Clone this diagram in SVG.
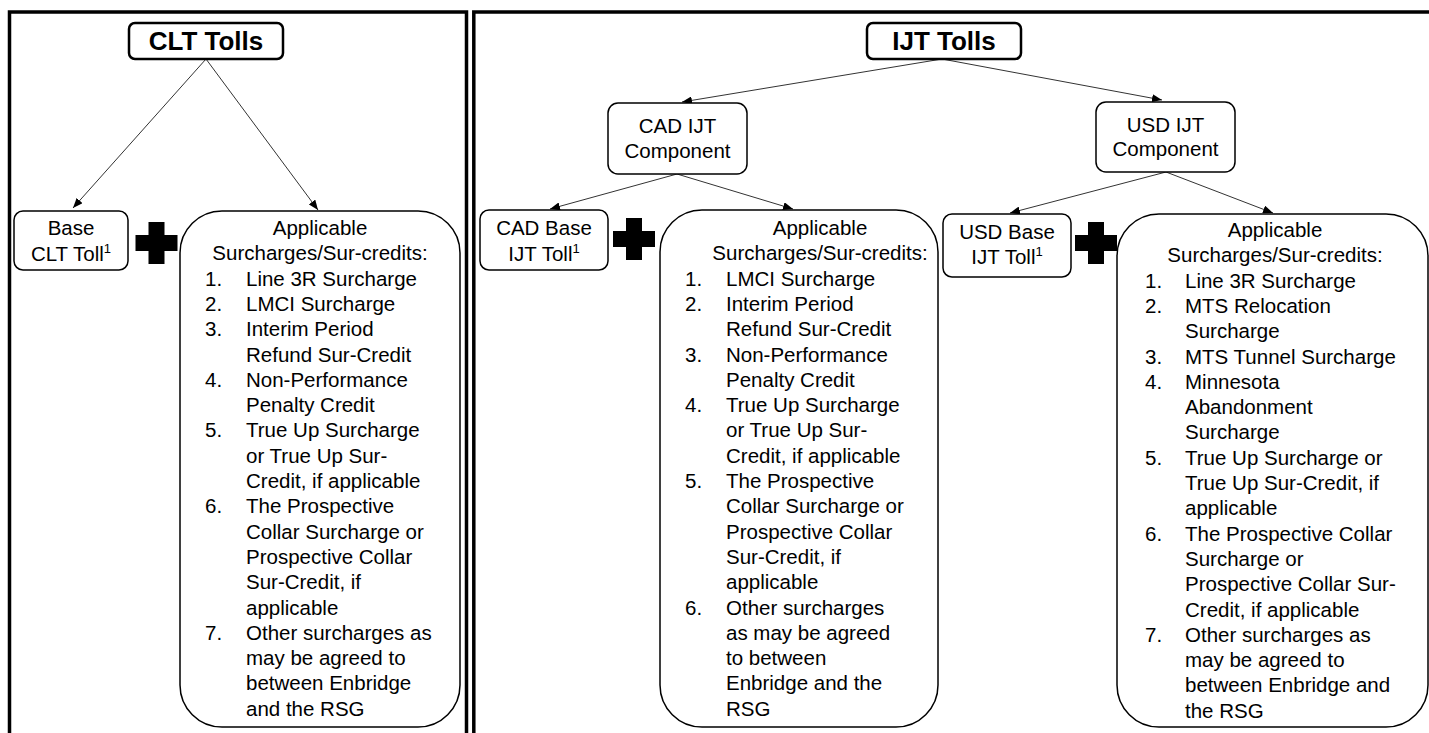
<svg xmlns="http://www.w3.org/2000/svg" width="1429" height="733" viewBox="0 0 1429 733">
<style>
text{font-family:"Liberation Sans",Arial,sans-serif;fill:#000}
.t{font-size:20.5px}
.c{text-anchor:middle}
.h{font-size:26px;font-weight:bold;text-anchor:middle}
.sup{font-size:13px}
.box{fill:#fff;stroke:#000;stroke-width:1.5}
.hbox{fill:#fff;stroke:#000;stroke-width:2.5}
.frame{fill:none;stroke:#000;stroke-width:3.5}
.edge{fill:none;stroke:#333;stroke-width:1}
</style>
<defs>
<marker id="ah" viewBox="0 0 10 8" refX="10" refY="4" markerWidth="10" markerHeight="8" markerUnits="userSpaceOnUse" orient="auto">
<path d="M0,0 L10,4 L0,8 Z" fill="#000"/>
</marker>
<path id="plus" d="M-8,-21 H8 V-8 H21 V8 H8 V21 H-8 V8 H-21 V-8 H-8 Z" fill="#000"/>
</defs>
<rect width="1429" height="733" fill="#fff"/>
<g id="frames">
<path class="frame" d="M9.5,733 V12 H466.5 V733"/>
<path class="frame" d="M473.8,733 V12 H1429"/>
</g>
<g id="connectors">
<path class="edge" d="M206,59 L73,208" marker-end="url(#ah)"/>
<path class="edge" d="M206,59 L318,210" marker-end="url(#ah)"/>
<path class="edge" d="M942,59 L682,102" marker-end="url(#ah)"/>
<path class="edge" d="M942,59 L1162,100" marker-end="url(#ah)"/>
<path class="edge" d="M677,174 L550,209" marker-end="url(#ah)"/>
<path class="edge" d="M677,174 L793,209" marker-end="url(#ah)"/>
<path class="edge" d="M1166,172 L1010,213" marker-end="url(#ah)"/>
<path class="edge" d="M1166,172 L1273,213" marker-end="url(#ah)"/>
</g>
<g id="clt-tolls">
<rect class="hbox" x="129" y="23" width="154" height="36" rx="6"/>
<text class="h" x="206" y="50">CLT Tolls</text>
</g>
<g id="clt-base">
<rect class="box" x="14" y="211" width="114" height="59" rx="9"/>
<text class="t c" x="71" y="235">Base</text>
<text class="t c" x="71" y="261">CLT Toll<tspan class="sup" dy="-8">1</tspan></text>
</g>
<g id="clt-plus"><use href="#plus" x="156.5" y="243"/></g>
<g id="clt-surcharges">
<rect class="box" x="180" y="211" width="280" height="516" rx="42"/>
<text class="t c" x="320" y="235">Applicable</text>
<text class="t c" x="320" y="260.3">Surcharges/Sur-credits:</text>
<text class="t" x="205" y="285.6">1.</text><text class="t" x="246" y="285.6">Line 3R Surcharge</text>
<text class="t" x="205" y="311">2.</text><text class="t" x="246" y="311">LMCI Surcharge</text>
<text class="t" x="205" y="336.2">3.</text><text class="t" x="246" y="336.2">Interim Period</text>
<text class="t" x="246" y="361.5">Refund Sur-Credit</text>
<text class="t" x="205" y="386.8">4.</text><text class="t" x="246" y="386.8">Non-Performance</text>
<text class="t" x="246" y="412.1">Penalty Credit</text>
<text class="t" x="205" y="437.4">5.</text><text class="t" x="246" y="437.4">True Up Surcharge</text>
<text class="t" x="246" y="462.7">or True Up Sur-</text>
<text class="t" x="246" y="488">Credit, if applicable</text>
<text class="t" x="205" y="513.3">6.</text><text class="t" x="246" y="513.3">The Prospective</text>
<text class="t" x="246" y="538.6">Collar Surcharge or</text>
<text class="t" x="246" y="563.9">Prospective Collar</text>
<text class="t" x="246" y="589.2">Sur-Credit, if</text>
<text class="t" x="246" y="614.5">applicable</text>
<text class="t" x="205" y="639.8">7.</text><text class="t" x="246" y="639.8">Other surcharges as</text>
<text class="t" x="246" y="665.1">may be agreed to</text>
<text class="t" x="246" y="690.4">between Enbridge</text>
<text class="t" x="246" y="715.7">and the RSG</text>
</g>
<g id="ijt-tolls">
<rect class="hbox" x="867" y="23" width="154" height="36" rx="6"/>
<text class="h" x="944" y="50">IJT Tolls</text>
</g>
<g id="cad-component">
<rect class="box" x="608" y="103" width="139" height="71" rx="10"/>
<text class="t c" x="677.5" y="133">CAD IJT</text>
<text class="t c" x="677.5" y="158">Component</text>
</g>
<g id="usd-component">
<rect class="box" x="1096" y="102" width="139" height="70" rx="10"/>
<text class="t c" x="1165.5" y="132">USD IJT</text>
<text class="t c" x="1165.5" y="156">Component</text>
</g>
<g id="cad-base">
<rect class="box" x="480" y="210" width="128" height="60" rx="9"/>
<text class="t c" x="544" y="235">CAD Base</text>
<text class="t c" x="544" y="261">IJT Toll<tspan class="sup" dy="-8">1</tspan></text>
</g>
<g id="cad-plus"><use href="#plus" x="634" y="239"/></g>
<g id="cad-surcharges">
<rect class="box" x="660" y="210" width="278" height="517" rx="42"/>
<text class="t c" x="820" y="235">Applicable</text>
<text class="t c" x="820" y="260.3">Surcharges/Sur-credits:</text>
<text class="t" x="685" y="285.6">1.</text><text class="t" x="726" y="285.6">LMCI Surcharge</text>
<text class="t" x="685" y="310.9">2.</text><text class="t" x="726" y="310.9">Interim Period</text>
<text class="t" x="726" y="336.2">Refund Sur-Credit</text>
<text class="t" x="685" y="361.5">3.</text><text class="t" x="726" y="361.5">Non-Performance</text>
<text class="t" x="726" y="386.8">Penalty Credit</text>
<text class="t" x="685" y="412.1">4.</text><text class="t" x="726" y="412.1">True Up Surcharge</text>
<text class="t" x="726" y="437.4">or True Up Sur-</text>
<text class="t" x="726" y="462.7">Credit, if applicable</text>
<text class="t" x="685" y="488">5.</text><text class="t" x="726" y="488">The Prospective</text>
<text class="t" x="726" y="513.3">Collar Surcharge or</text>
<text class="t" x="726" y="538.6">Prospective Collar</text>
<text class="t" x="726" y="563.9">Sur-Credit, if</text>
<text class="t" x="726" y="589.2">applicable</text>
<text class="t" x="685" y="614.5">6.</text><text class="t" x="726" y="614.5">Other surcharges</text>
<text class="t" x="726" y="639.8">as may be agreed</text>
<text class="t" x="726" y="665.1">to between</text>
<text class="t" x="726" y="690.4">Enbridge and the</text>
<text class="t" x="726" y="715.7">RSG</text>
</g>
<g id="usd-base">
<rect class="box" x="943" y="214" width="128" height="63" rx="9"/>
<text class="t c" x="1007" y="239">USD Base</text>
<text class="t c" x="1007" y="264">IJT Toll<tspan class="sup" dy="-8">1</tspan></text>
</g>
<g id="usd-plus"><use href="#plus" x="1096" y="243"/></g>
<g id="usd-surcharges">
<rect class="box" x="1117" y="214" width="311" height="513" rx="42"/>
<text class="t c" x="1275" y="237">Applicable</text>
<text class="t c" x="1275" y="262.3">Surcharges/Sur-credits:</text>
<text class="t" x="1145" y="287.6">1.</text><text class="t" x="1185" y="287.6">Line 3R Surcharge</text>
<text class="t" x="1145" y="312.9">2.</text><text class="t" x="1185" y="312.9">MTS Relocation</text>
<text class="t" x="1185" y="338.2">Surcharge</text>
<text class="t" x="1145" y="363.5">3.</text><text class="t" x="1185" y="363.5">MTS Tunnel Surcharge</text>
<text class="t" x="1145" y="388.8">4.</text><text class="t" x="1185" y="388.8">Minnesota</text>
<text class="t" x="1185" y="414.1">Abandonment</text>
<text class="t" x="1185" y="439.4">Surcharge</text>
<text class="t" x="1145" y="464.7">5.</text><text class="t" x="1185" y="464.7">True Up Surcharge or</text>
<text class="t" x="1185" y="490">True Up Sur-Credit, if</text>
<text class="t" x="1185" y="515.3">applicable</text>
<text class="t" x="1145" y="540.6">6.</text><text class="t" x="1185" y="540.6">The Prospective Collar</text>
<text class="t" x="1185" y="565.9">Surcharge or</text>
<text class="t" x="1185" y="591.2">Prospective Collar Sur-</text>
<text class="t" x="1185" y="616.5">Credit, if applicable</text>
<text class="t" x="1145" y="641.8">7.</text><text class="t" x="1185" y="641.8">Other surcharges as</text>
<text class="t" x="1185" y="667.1">may be agreed to</text>
<text class="t" x="1185" y="692.4">between Enbridge and</text>
<text class="t" x="1185" y="717.7">the RSG</text>
</g>
</svg>
